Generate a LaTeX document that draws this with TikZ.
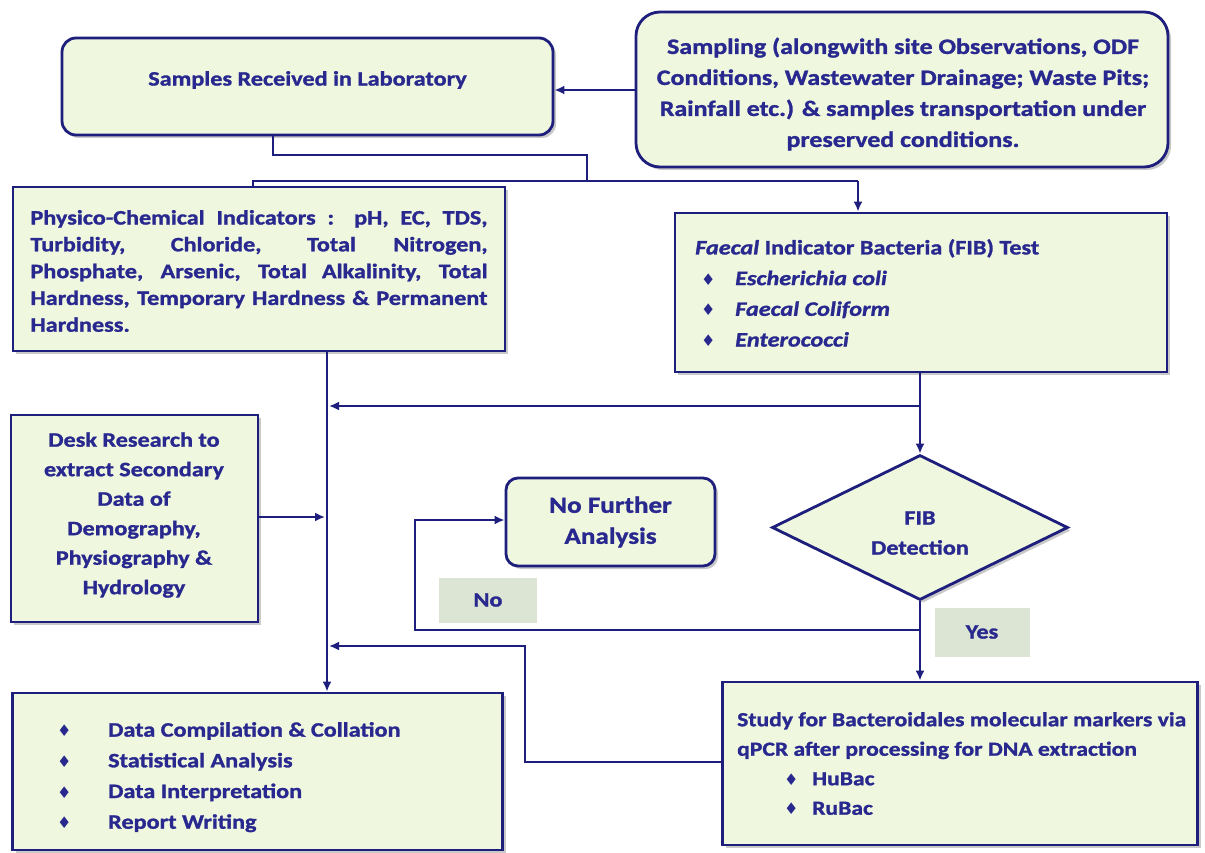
\documentclass[tikz,border=0pt]{standalone}
\usepackage{fontspec}
\setmainfont{Carlito}[FakeStretch=1.18, BoldFeatures={FakeBold=1.3}, BoldItalicFeatures={FakeBold=1.3}]
\newfontfamily\dvfont{DejaVu Sans}
\usetikzlibrary{shapes.geometric,arrows.meta,shadows}
\definecolor{navy}{HTML}{1E1E7C}
\definecolor{txtblue}{HTML}{28288E}
\definecolor{boxfill}{HTML}{EFF7DF}
\definecolor{lblfill}{HTML}{DCE5D3}
\newcommand{\bul}{{\dvfont\fontsize{16}{16}\selectfont ♦}}
\begin{document}
\begin{tikzpicture}[x=1pt,y=-1pt,
  every node/.style={text=txtblue, font=\bfseries\fontsize{20.5}{30}\selectfont},
  sbox/.style={draw=navy, line width=2.8pt, fill=boxfill, inner sep=0pt,
     drop shadow={shadow xshift=3pt, shadow yshift=-3pt, opacity=0.35, fill=black!60}},
  rbox/.style={sbox, rounded corners=14pt},
  dbox/.style={sbox, diamond, aspect=2.04},
  lbl/.style={fill=lblfill, inner sep=0pt},
  conn/.style={draw=navy, line width=2.8pt},
  arr/.style={-{Latex[length=10pt,width=9pt]}},
]
\useasboundingbox[fill=white] (0,0) rectangle (1205,853);

% boxes
\node[rbox, minimum width=491pt, minimum height=97pt] (recv) at (307.5,86.5) {};
\node[rbox, rounded corners=24pt, minimum width=532pt, minimum height=155pt] (samp) at (902,89.5) {};
\node[sbox, minimum width=492pt, minimum height=164pt] (phys) at (259,269) {};
\node[sbox, minimum width=492pt, minimum height=159pt] (fib) at (921,292.5) {};
\node[sbox, minimum width=247pt, minimum height=207pt] (desk) at (134.5,518.5) {};
\node[rbox, rounded corners=12pt, minimum width=209pt, minimum height=88pt] (nfa) at (610.5,522) {};
\node[dbox, minimum width=296pt, minimum height=145pt] (dia) at (920,527.5) {};
\node[sbox, minimum width=490pt, minimum height=157pt] (data) at (257.5,771.5) {};
\node[sbox, minimum width=475pt, minimum height=163pt] (bact) at (960,763.5) {};
\node[lbl, minimum width=98pt, minimum height=45pt] (no) at (488,600) {No};
\node[lbl, minimum width=95pt, minimum height=49pt] (yes) at (982,632) {Yes};

% texts
\node (recvT) at (307.5,80) {Samples Received in Laboratory};
\node[align=center, font=\bfseries\fontsize{22}{31}\selectfont] (sampT) at (903,94) {Sampling (alongwith site Observations, ODF\\
Conditions, Wastewater Drainage; Waste Pits;\\
Rainfall etc.) \& samples transportation under\\
preserved conditions.};
\node[text width=457pt, align=justify, font=\bfseries\fontsize{20.5}{26.8}\selectfont] (physT) at (259,271) {Physico-Chemical Indicators : pH, EC, TDS,\linebreak
Turbidity, Chloride, Total Nitrogen,\linebreak
Phosphate, Arsenic, Total Alkalinity, Total\linebreak
Hardness, Temporary Hardness \& Permanent\linebreak
Hardness.};
\node[anchor=north west, align=left, inner sep=0pt, font=\bfseries\fontsize{20.5}{30.7}\selectfont] (fibT) at (695,239) {\textit{Faecal} Indicator Bacteria (FIB) Test\\
\hspace*{6pt}\makebox[34pt][l]{\bul}\textit{Escherichia coli}\\
\hspace*{6pt}\makebox[34pt][l]{\bul}\textit{Faecal Coliform}\\
\hspace*{6pt}\makebox[34pt][l]{\bul}\textit{Enterococci}};
\node[align=center, font=\bfseries\fontsize{20.5}{29.5}\selectfont] (deskT) at (134,515) {Desk Research to\\ extract Secondary\\ Data of\\ Demography,\\ Physiography \&\\ Hydrology};
\node[align=center, font=\bfseries\fontsize{23}{31}\selectfont] (nfaT) at (610.5,522) {No Further\\ Analysis};
\node[align=center] (diaT) at (920,533) {FIB\\ Detection};
\node[anchor=north west, align=left, inner sep=0pt, font=\bfseries\fontsize{20.5}{30.7}\selectfont] (dataT) at (57,722) {%
\makebox[51pt][l]{\bul}Data Compilation \& Collation\\
\makebox[51pt][l]{\bul}Statistical Analysis\\
\makebox[51pt][l]{\bul}Data Interpretation\\
\makebox[51pt][l]{\bul}Report Writing};
\node[anchor=north west, align=left, inner sep=0pt, font=\bfseries\fontsize{20}{29.5}\selectfont] (bactT) at (737,712) {%
Study for Bacteroidales molecular markers via\\
qPCR after processing for DNA extraction\\
\hspace*{47pt}\makebox[28pt][l]{\bul}HuBac\\
\hspace*{47pt}\makebox[28pt][l]{\bul}RuBac};

% connectors
\draw[conn, arr] (samp.west |- 0,90) -- (recv.east |- 0,90);
\draw[conn] (recv.south -| 273,0) |- (587,155) -- (587,181);
\draw[conn] (phys.north -| 253,0) -- (253,181) -- (858,181);
\draw[conn, arr] (858,181) -- (fib.north -| 858,0);
\draw[conn, arr] (phys.south -| 327,0) -- (data.north -| 327,0);
\draw[conn] (fib.south -| 920,0) -- (920,406);
\draw[conn, arr] (920,406) -- (329,406);
\draw[conn, arr] (920,406) -- (dia.north);
\draw[conn, arr] (desk.east |- 0,517) -- (325,517);
\draw[conn, arr] (dia.south) -- (bact.north -| dia.south);
\draw[conn, arr] (920,630) -- (415,630) -- (415,520) -- (nfa.west |- 0,520);
\draw[conn, arr] (bact.west |- 0,762) -- (525,762) -- (525,646) -- (329,646);
\end{tikzpicture}
\end{document}
